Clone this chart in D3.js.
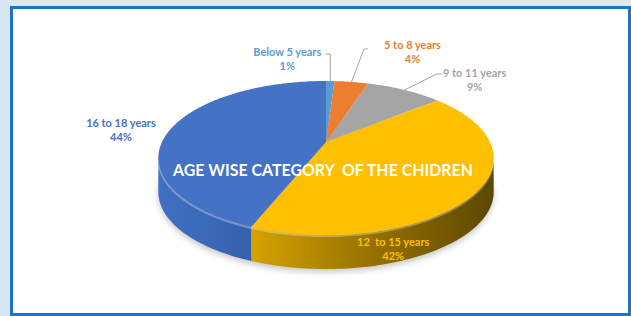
<!DOCTYPE html>
<html>
<head>
<meta charset="utf-8">
<script src="https://cdn.jsdelivr.net/npm/d3@7"></script>
<style>
  body { margin: 0; background: #dae8f5; }
  svg { display: block; }
  text { font-family: Lato, "Open Sans", sans-serif; font-weight: bold; }
</style>
</head>
<body>
<div id="chart"></div>
<script>
(function () {
  // chart data
  const categories = ["Below 5 years", "5 to 8 years", "9 to 11 years", "12  to 15 years", "16 to 18 years"];
  const values = [1, 4, 9, 42, 44];
  const percentLabels = ["1%", "4%", "9%", "42%", "44%"];
  const colors = ["#5b9bd5", "#ed7d31", "#a5a5a5", "#ffc000", "#4472c4"];
  const title = "AGE WISE CATEGORY  OF THE CHIDREN";

  const width = 631, height = 316;

  // perspective of the tilted disc
  const CX = 326, CY = 142, F = 164, S = 73.7, P = 0.208, DEPTH = 34;

  // label placement relative to the rim point at each slice's mid angle
  const labelLayout = [
    {dx: -43, dy: -22, elbow: [0, -27], tail: -5, weight: "bold"},
    {dx: 61, dy: -30, elbow: [12.5, -33], tail: 4, weight: "bold"},
    {dx: 70, dy: -10, elbow: [32, -16], tail: 5, weight: "normal"},
    {dx: -84, dy: 58, elbow: null, weight: "bold"},
    {dx: -50, dy: 1, elbow: null, weight: "bold"}
  ];

  function proj(a, drop) {
    const X = Math.sin(a), Y = Math.cos(a), w = 1 + P * Y;
    return [CX + F * X / w, CY - S * Y / w + (drop || 0)];
  }

  function rim(a1, a2, drop) {
    const n = Math.max(2, Math.ceil(Math.abs(a2 - a1) / 0.02));
    return d3.range(n + 1).map(i => proj(a1 + (a2 - a1) * i / n, drop));
  }

  const svg = d3.select("#chart").append("svg")
    .attr("width", width)
    .attr("height", height);

  const defs = svg.append("defs");
  defs.append("filter").attr("id", "blur")
    .attr("x", "-20%").attr("y", "-50%").attr("width", "140%").attr("height", "200%")
    .append("feGaussianBlur").attr("stdDeviation", 3);

  const sideGrads = [
    {id: "side3", x1: 255, x2: 495, stops: [[0, "#d4a100"], [0.4, "#9f7a00"], [1, "#5c4600"]]},
    {id: "side4", x1: 157, x2: 260, stops: [[0, "#4170c2"], [1, "#3460ad"]]}
  ];
  sideGrads.forEach(g => {
    const lg = defs.append("linearGradient").attr("id", g.id)
      .attr("gradientUnits", "userSpaceOnUse")
      .attr("x1", g.x1).attr("x2", g.x2).attr("y1", 0).attr("y2", 0);
    g.stops.forEach(s => lg.append("stop").attr("offset", s[0]).attr("stop-color", s[1]));
  });

  // background box
  svg.append("rect")
    .attr("x", 11.5).attr("y", 7.5)
    .attr("width", 618).attr("height", 307)
    .attr("fill", "#fff")
    .attr("stroke", "#1b75c6")
    .attr("stroke-width", 3);

  const line = d3.line();
  const pie = d3.pie().sort(null).value(d => d);
  const arcs = pie(values);

  const aR = Math.acos(-P), aL = 2 * Math.PI - aR;

  // soft shadow under the disc
  svg.append("path")
    .attr("d", line(rim(0, 2 * Math.PI, DEPTH + 3)) + "Z")
    .attr("fill", "#000")
    .attr("opacity", 0.22)
    .attr("filter", "url(#blur)");

  // front wall of the disc
  const g = svg.append("g");
  arcs.forEach((d, i) => {
    const a1 = Math.max(d.startAngle, aR), a2 = Math.min(d.endAngle, aL);
    if (a1 >= a2) return;
    const pts = rim(a1, a2, 0).concat(rim(a2, a1, DEPTH));
    g.append("path")
      .attr("d", line(pts) + "Z")
      .attr("fill", "url(#side" + i + ")");
  });

  // light bevel along the front edge
  g.append("path")
    .attr("d", line(rim(aR, aL, 1)))
    .attr("fill", "none")
    .attr("stroke", "#fff")
    .attr("stroke-opacity", 0.3)
    .attr("stroke-width", 2);

  // top face
  arcs.forEach((d, i) => {
    const pts = [[CX, CY]].concat(rim(d.startAngle, d.endAngle, 0));
    g.append("path")
      .attr("d", line(pts) + "Z")
      .attr("fill", colors[i]);
  });

  // title across the disc
  svg.append("text")
    .attr("x", 323).attr("y", 176)
    .attr("text-anchor", "middle")
    .attr("font-size", 17)
    .attr("textLength", 300)
    .attr("lengthAdjust", "spacingAndGlyphs")
    .attr("fill", "#fff")
    .style("white-space", "pre")
    .text(title);

  // data labels
  arcs.forEach((d, i) => {
    const L = labelLayout[i];
    const mid = (d.startAngle + d.endAngle) / 2;
    const r = proj(mid, 0);
    const lx = r[0] + L.dx, ly = r[1] + L.dy;

    if (L.elbow) {
      const e = [r[0] + L.elbow[0], r[1] + L.elbow[1]];
      svg.append("path")
        .attr("d", line([r, e, [e[0] + L.tail, e[1]]]))
        .attr("fill", "none")
        .attr("stroke", "#a6a6a6")
        .attr("stroke-width", 1);
    }

    const t = svg.append("text")
      .attr("text-anchor", "middle")
      .attr("font-size", 11)
      .attr("font-weight", L.weight)
      .attr("fill", colors[i])
      .style("white-space", "pre");
    t.append("tspan").attr("x", lx).attr("y", ly - 3).text(categories[i]);
    t.append("tspan").attr("x", lx).attr("y", ly + 11).text(percentLabels[i]);
  });
})();
</script>
</body>
</html>
